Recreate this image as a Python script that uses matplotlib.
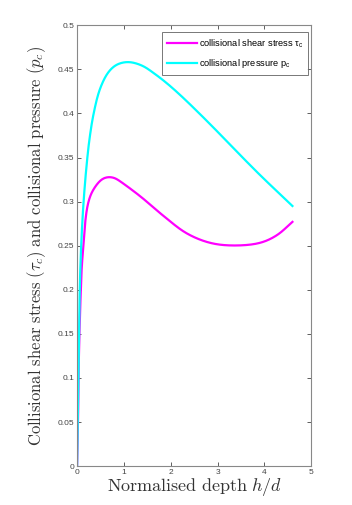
import numpy as np
import matplotlib
matplotlib.use('Agg')
import matplotlib.pyplot as plt

# values
depth_p = [0.0, 0.015, 0.03, 0.064, 0.11, 0.16, 0.21, 0.26, 0.35, 0.49, 0.67, 0.85,
           1.10, 1.40, 1.63, 1.90, 2.20, 2.63, 3.06, 3.48, 3.91, 4.60]
pressure = [0.0, 0.05, 0.10, 0.215, 0.275, 0.315, 0.345, 0.369, 0.399, 0.428, 0.447, 0.4555,
            0.4584, 0.454, 0.446, 0.435, 0.421, 0.399, 0.376, 0.353, 0.330, 0.295]

depth_s = [0.0, 0.02, 0.03, 0.05, 0.08, 0.10, 0.135, 0.17, 0.23, 0.31, 0.46, 0.56, 0.67,
           0.80, 0.92, 1.35, 1.84, 2.34, 2.84, 3.34, 3.91, 4.27, 4.60]
shear = [0.0, 0.05, 0.10, 0.15, 0.20, 0.226, 0.25, 0.275, 0.297, 0.310, 0.322, 0.3265, 0.328,
         0.327, 0.323, 0.306, 0.284, 0.264, 0.2532, 0.2502, 0.2532, 0.2619, 0.277]

x_ticks = [0, 1, 2, 3, 4, 5]
y_ticks = [0, 0.05, 0.1, 0.15, 0.2, 0.25, 0.3, 0.35, 0.4, 0.45, 0.5]


def smooth(xs, ys, sx=47.0, sy=882.0, n=30, sigma=3.0):
    # centripetal Catmull-Rom through the read points, in screen-like units,
    # then a light gaussian pass along arc length to hide small reading errors
    P = np.column_stack([np.asarray(xs) * sx, np.asarray(ys) * sy])
    P = np.vstack([2 * P[0] - P[1], P, 2 * P[-1] - P[-2]])
    out = []
    for i in range(1, len(P) - 2):
        p0, p1, p2, p3 = P[i - 1], P[i], P[i + 1], P[i + 2]
        t0 = 0.0
        t1 = t0 + np.linalg.norm(p1 - p0) ** 0.5 + 1e-9
        t2 = t1 + np.linalg.norm(p2 - p1) ** 0.5 + 1e-9
        t3 = t2 + np.linalg.norm(p3 - p2) ** 0.5 + 1e-9
        t = np.linspace(t1, t2, n)[:, None]
        a1 = (t1 - t) / (t1 - t0) * p0 + (t - t0) / (t1 - t0) * p1
        a2 = (t2 - t) / (t2 - t1) * p1 + (t - t1) / (t2 - t1) * p2
        a3 = (t3 - t) / (t3 - t2) * p2 + (t - t2) / (t3 - t2) * p3
        b1 = (t2 - t) / (t2 - t0) * a1 + (t - t0) / (t2 - t0) * a2
        b2 = (t3 - t) / (t3 - t1) * a2 + (t - t1) / (t3 - t1) * a3
        out.append((t2 - t) / (t2 - t1) * b1 + (t - t1) / (t2 - t1) * b2)
    c = np.vstack(out)
    s = np.concatenate([[0], np.cumsum(np.linalg.norm(np.diff(c, axis=0), axis=1))])
    su = np.linspace(0, s[-1], int(s[-1] * 2) + 2)
    cx = np.interp(su, s, c[:, 0])
    cy = np.interp(su, s, c[:, 1])
    k = int(3 * sigma * 2)
    w = np.exp(-0.5 * (np.arange(-k, k + 1) / (sigma * 2)) ** 2)
    w /= w.sum()
    fx = np.convolve(np.pad(cx, k, mode='reflect', reflect_type='odd'), w, 'valid')
    fy = np.convolve(np.pad(cy, k, mode='reflect', reflect_type='odd'), w, 'valid')
    return fx / sx, fy / sy


plt.rcParams['mathtext.fontset'] = 'cm'
fig = plt.figure(figsize=(3.52, 5.05), dpi=100)
ax = fig.add_axes([0.219, 0.077, 0.665, 0.873])

xs, ys = smooth(depth_s, shear)
xp, yp = smooth(depth_p, pressure)
ax.plot(xs, ys, color='#ff00ff', lw=1.6, label=r'collisional shear stress $\mathregular{\tau_c}$')
ax.plot(xp, yp, color='#00ffff', lw=1.6, label=r'collisional pressure $\mathregular{p_c}$')

ax.set_xlim(0, 5)
ax.set_ylim(0, 0.5)
ax.set_xticks(x_ticks)
ax.set_yticks(y_ticks)
ax.set_xticklabels([str(v) for v in x_ticks], fontname='Liberation Sans')
ax.set_yticklabels(['0' if v == 0 else f'{v:g}' for v in y_ticks], fontname='Liberation Sans')
ax.tick_params(direction='in', top=True, right=True, length=3, width=0.6,
               labelsize=6, colors='#444444', pad=2)
for s in ax.spines.values():
    s.set_color('#888888')
    s.set_linewidth(0.8)

ax.set_xlabel(r'$\mathrm{Normalised\ depth}\ h/d$', fontsize=13, color='#333333', labelpad=0)
ax.set_ylabel(r'$\mathrm{Collisional\ shear\ stress}\ (\tau_c)\ \mathrm{and\ collisional\ pressure}\ (p_c)$',
              fontsize=12, color='#333333', labelpad=7)

leg = ax.legend(loc='upper right', prop={'family': 'Liberation Sans', 'size': 6.7},
                frameon=True, fancybox=False, handlelength=3.2, handletextpad=0.3,
                borderpad=0.5, labelspacing=0.8, borderaxespad=0.3,
                bbox_to_anchor=(1.0, 0.99))
leg.get_frame().set_edgecolor('#555555')
leg.get_frame().set_linewidth(0.7)

fig.savefig('out.png', dpi=100, facecolor='white')
